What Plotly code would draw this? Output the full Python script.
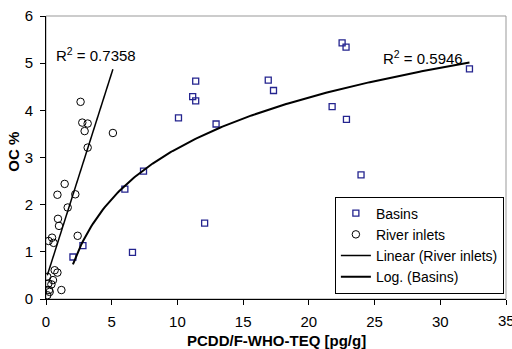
import numpy as np
import plotly.graph_objects as go

# Basins (squares)
basins_x = [11.39, 11.16, 11.39, 10.08, 12.94, 7.42, 22.53, 22.83, 16.91, 17.31,
            32.22, 21.77, 22.86, 23.97, 6.00, 12.07, 2.81, 2.05, 6.58]
basins_y = [4.62, 4.29, 4.20, 3.84, 3.71, 2.71, 5.43, 5.34, 4.64, 4.42,
            4.88, 4.08, 3.81, 2.63, 2.33, 1.61, 1.13, 0.89, 0.99]

# River inlets (circles)
river_x = [2.63, 2.76, 3.17, 2.94, 5.09, 3.17, 1.42, 0.87, 2.23, 1.65, 0.91, 0.99,
           2.41, 0.46, 0.20, 0.58, 0.66, 0.87, 0.10, 0.53, 0.18, 0.41, 0.23, 0.28,
           0.10, 1.17]
river_y = [4.18, 3.74, 3.72, 3.56, 3.52, 3.21, 2.44, 2.21, 2.22, 1.94, 1.70, 1.55,
           1.34, 1.30, 1.23, 1.19, 0.61, 0.56, 0.47, 0.40, 0.33, 0.31, 0.19, 0.15,
           0.08, 0.19]

x_ticks = [0, 5, 10, 15, 20, 25, 30, 35]
y_ticks = [0, 1, 2, 3, 4, 5, 6]
r2_labels = ["R<sup>2</sup> = 0.7358", "R<sup>2</sup> = 0.5946"]
x_title = "PCDD/F-WHO-TEQ [pg/g]"
y_title = "OC %"

bx = np.array(basins_x); by = np.array(basins_y)
rx = np.array(river_x); ry = np.array(river_y)

# Linear trend for river inlets
m, c = np.polyfit(rx, ry, 1)
lin_x = np.array([rx.min(), rx.max()])
lin_y = m * lin_x + c

# Log trend for basins
a, b = np.polyfit(np.log(bx), by, 1)
log_x = np.linspace(bx.min(), bx.max(), 200)
log_y = a * np.log(log_x) + b

font = "Liberation Sans, Arial, sans-serif"
fig = go.Figure()
fig.add_trace(go.Scatter(x=basins_x, y=basins_y, mode="markers", name="Basins",
                         marker=dict(symbol="square-open", size=6, color="#24248f",
                                     line=dict(width=1.3, color="#24248f"))))
fig.add_trace(go.Scatter(x=river_x, y=river_y, mode="markers", name="River inlets",
                         marker=dict(symbol="circle-open", size=7.5, color="black",
                                     line=dict(width=1, color="black"))))
fig.add_trace(go.Scatter(x=lin_x, y=lin_y, mode="lines", name="Linear (River inlets)",
                         line=dict(color="black", width=1.5)))
fig.add_trace(go.Scatter(x=log_x, y=log_y, mode="lines", name="Log. (Basins)",
                         line=dict(color="black", width=2)))

fig.add_annotation(x=0.58, y=5.18, text=r2_labels[0], showarrow=False,
                   xanchor="left", yanchor="middle", font=dict(size=15, color="black"))
fig.add_annotation(x=25.5, y=5.12, text=r2_labels[1], showarrow=False,
                   xanchor="left", yanchor="middle", font=dict(size=15, color="black"))

# last x tick label (drawn as text so it is not dropped at the edge)
fig.add_annotation(x=x_ticks[-1], xref="x", yref="paper", y=-0.075, text=str(x_ticks[-1]),
                   showarrow=False, xanchor="center", yanchor="middle",
                   font=dict(size=15, color="black"))

# axis titles
fig.add_annotation(xref="paper", yref="paper", x=0.5, y=-0.145, text="<b>" + x_title + "</b>",
                   showarrow=False, xanchor="center", yanchor="middle",
                   font=dict(size=15, color="black"))
fig.add_annotation(xref="paper", yref="paper", x=-0.07, y=0.52, text="<b>" + y_title + "</b>",
                   showarrow=False, xanchor="center", yanchor="middle", textangle=-90,
                   font=dict(size=15, color="black"))

# gray frame top/right
fig.add_shape(type="rect", xref="paper", yref="paper", x0=0, y0=0, x1=1, y1=1,
              line=dict(color="#999999", width=1), layer="below")

fig.update_layout(
    width=512, height=349,
    margin=dict(l=46, r=6, t=16, b=50),
    paper_bgcolor="white", plot_bgcolor="white",
    font=dict(family=font, size=15, color="black"),
    showlegend=True,
    legend=dict(x=0.628, y=0.362, xanchor="left", yanchor="top",
                bgcolor="white", bordercolor="black", borderwidth=1,
                font=dict(size=14), tracegroupgap=0, itemwidth=30),
    xaxis=dict(range=[0, 35], tickvals=x_ticks, ticktext=[str(v) for v in x_ticks[:-1]] + [""],
               automargin=False,
               showgrid=False, zeroline=False, showline=True, linecolor="black",
               linewidth=1, ticks="outside", ticklen=5, tickcolor="black",
               tickfont=dict(size=15), ticklabelstandoff=4),
    yaxis=dict(range=[0, 6], tickvals=y_ticks, automargin=False,
               showgrid=False, zeroline=False, showline=True, linecolor="black",
               linewidth=1, ticks="outside", ticklen=5, tickcolor="black",
               tickfont=dict(size=15), ticklabelstandoff=4),
)

fig.write_html("out.html", config={"displayModeBar": False},
               post_script="document.body.style.margin='0';document.body.style.padding='0';document.body.style.overflow='hidden';")
